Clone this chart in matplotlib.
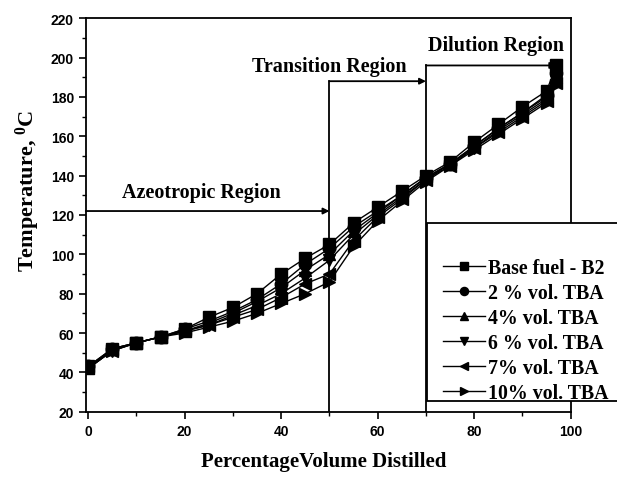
import matplotlib.pyplot as plt
from matplotlib.patches import Rectangle

# distillation curves
volume = [0, 5, 10, 15, 20, 25, 30, 35, 40, 45, 50, 55, 60, 65, 70, 75, 80, 85, 90, 95, 97]
base_b2 = [43, 52, 55, 58, 62, 68, 73, 80, 90, 98, 105, 116, 124, 132, 140, 147, 157, 166, 175, 183, 196]
tba_2 = [43, 52, 55, 58, 62, 66, 71, 77, 85, 95, 103, 114, 122, 130, 139, 146, 155, 164, 172, 181, 192]
tba_4 = [42, 52, 55, 58, 61, 65, 70, 76, 83, 92, 100, 112, 121, 130, 139, 146, 155, 164, 172, 180, 190]
tba_6 = [42, 51, 55, 58, 61, 64, 69, 74, 80, 88, 97, 110, 120, 129, 138, 146, 154, 163, 171, 179, 188]
tba_7 = [42, 51, 55, 58, 61, 64, 68, 72, 78, 85, 90, 107, 119, 128, 138, 145, 154, 162, 170, 178, 187]
tba_10 = [42, 51, 55, 58, 60, 63, 66, 70, 75, 80, 86, 104, 117, 127, 137, 145, 153, 161, 169, 177, 186]

labels = ["Base fuel - B2", "2 % vol. TBA", "4% vol. TBA",
          "6 % vol. TBA", "7% vol. TBA", "10% vol. TBA"]
markers = ["s", "o", "^", "v", "<", ">"]

serif = "Liberation Serif"
sans = "Liberation Sans"

fig = plt.figure(figsize=(6.17, 4.81), dpi=100)
ax = fig.add_axes([0.139, 0.142, 0.786, 0.818])

for ys, lab, m in zip([base_b2, tba_2, tba_4, tba_6, tba_7, tba_10], labels, markers):
    ax.plot(volume, ys, color="black", lw=1.0, marker=m, ms=9, label=lab)

# region markers
ax.plot([50, 50], [20, 188], color="black", lw=1.3)
ax.plot([70, 70], [20, 196], color="black", lw=1.3)
arrow = dict(arrowstyle="-|>", color="black", lw=1.3, mutation_scale=9, shrinkA=0, shrinkB=0)
ax.annotate("", xy=(50, 122), xytext=(-0.5, 122), arrowprops=arrow)
ax.annotate("", xy=(70, 188), xytext=(50, 188), arrowprops=arrow)
ax.annotate("", xy=(97, 196), xytext=(70, 196), arrowprops=arrow)

ax.text(23.4, 126.5, "Azeotropic Region", family=serif, weight="bold", fontsize=14.5, ha="center", va="bottom")
ax.text(50, 190.5, "Transition Region", family=serif, weight="bold", fontsize=14.5, ha="center", va="bottom")
ax.text(84.5, 201.5, "Dilution Region", family=serif, weight="bold", fontsize=14.5, ha="center", va="bottom")

ax.set_xlim(-0.5, 100)
ax.set_ylim(20, 220)
ax.set_xticks(range(0, 101, 20))
ax.set_xticks(range(0, 101, 10), minor=True)
ax.set_yticks(range(20, 221, 20))
ax.set_yticks(range(20, 221, 10), minor=True)
ax.tick_params(direction="out", length=5, width=1.2, labelsize=10)
ax.tick_params(which="minor", direction="out", length=3, width=1.0)
for t in ax.get_xticklabels() + ax.get_yticklabels():
    t.set_family(sans)
    t.set_weight("bold")
for s in ax.spines.values():
    s.set_linewidth(1.3)

ax.set_xlabel("PercentageVolume Distilled", family=serif, weight="bold", fontsize=15)
ax.xaxis.set_label_coords(0.49, -0.10)
ax.set_ylabel("Temperature, $\\mathregular{^0}$C", family=serif, weight="bold", fontsize=16)
ax.yaxis.set_label_coords(-0.09, 0.563)

# legend box runs past the right edge of the figure
box = Rectangle((0.7035, 0.027), 0.5, 0.452, transform=ax.transAxes, facecolor="white",
                edgecolor="black", lw=1.3, clip_on=False, zorder=3)
ax.add_patch(box)
leg = ax.legend(loc="lower left", bbox_to_anchor=(0.7365, 0.022), frameon=False,
                prop={"family": serif, "weight": "bold", "size": 14.3},
                handlelength=2.1, handletextpad=0.15, borderaxespad=0, borderpad=0,
                labelspacing=0.25, markerscale=0.65)
leg.set_zorder(4)

fig.savefig("out.png", dpi=100)
